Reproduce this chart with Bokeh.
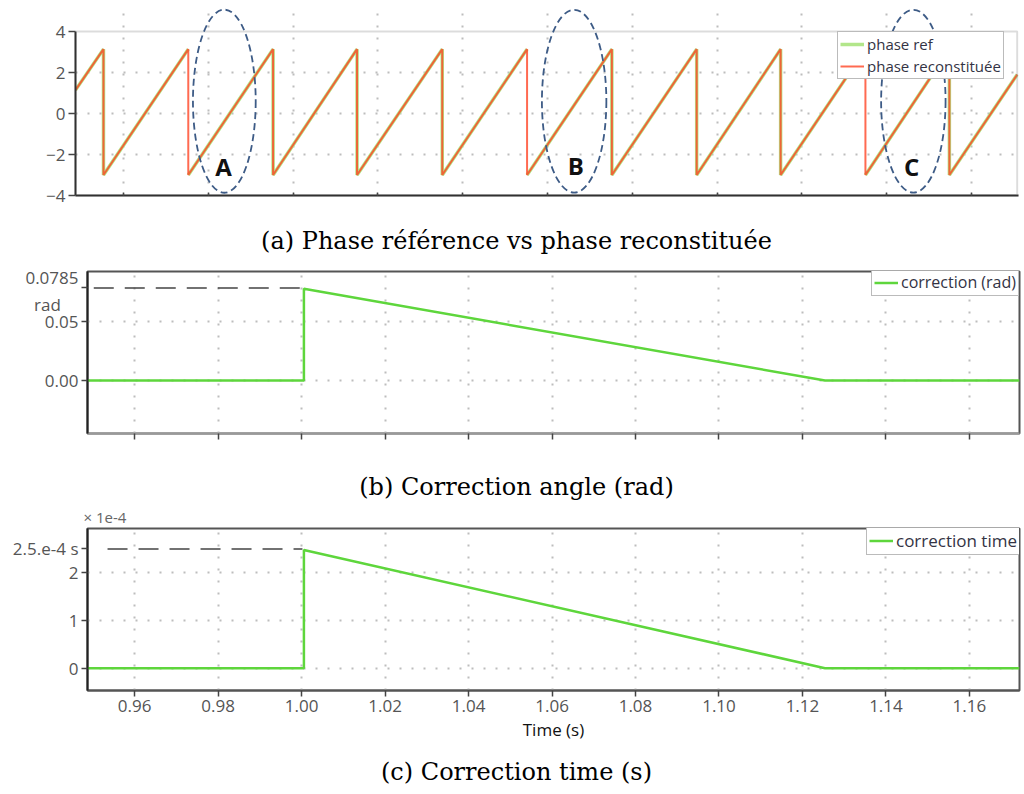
import numpy as np
from bokeh.plotting import figure
from bokeh.layouts import column
from bokeh.models import (BoxAnnotation, FixedTicker, NumeralTickFormatter, Range1d,
                          CustomJSTickFormatter)
from bokeh.core.properties import value
from bokeh.embed import file_html
from bokeh.resources import INLINE

nan = float("nan")

# ---------------- data ----------------
# (a) phase reference vs reconstructed phase (rad) -- sawtooth vertices
phase_ref_t = [0.9487, 0.9553, 0.9553, 0.9753, nan, 0.9753, 0.9953, 0.9953, 1.0151,
               1.0151, 1.0352, 1.0352, 1.0552, nan, 1.0552, 1.0752, 1.0752, 1.0952,
               1.0952, 1.1150, 1.1150, 1.1350, nan, 1.1350, 1.1548, 1.1548, 1.1708]
phase_ref_v = [1.14, 3.14, -3.00, 3.14, nan, -3.00, 3.14, -3.00, 3.14,
               -3.00, 3.14, -3.00, 3.14, nan, -3.00, 3.14, -3.00, 3.14,
               -3.00, 3.14, -3.00, 3.14, nan, -3.00, 3.14, -3.00, 1.90]
phase_rec_t = [0.9487, 0.9553, 0.9553, 0.9753, 0.9753, 0.9953, 0.9953, 1.0151,
               1.0151, 1.0352, 1.0352, 1.0552, 1.0552, 1.0752, 1.0752, 1.0952,
               1.0952, 1.1150, 1.1150, 1.1350, 1.1350, 1.1548, 1.1548, 1.1708]
phase_rec_v = [1.14, 3.14, -3.00, 3.14, -3.00, 3.14, -3.00, 3.14,
               -3.00, 3.14, -3.00, 3.14, -3.00, 3.14, -3.00, 3.14,
               -3.00, 3.14, -3.00, 3.14, -3.00, 3.14, -3.00, 1.90]
zone_labels = ["A", "B", "C"]
zone_t = [0.9838, 1.0663, 1.1463]
zone_v = [0.60, 0.60, 0.60]
zone_w = [0.0148, 0.0152, 0.0152]
zone_h = [8.93, 8.93, 8.93]
letter_t = [0.9836, 1.0667, 1.1459]
letter_v = [-2.60, -2.55, -2.60]

# (b) correction angle (rad)
corr_t = [0.9487, 1.00055, 1.00055, 1.1254, 1.1720]
corr_rad = [0.0, 0.0, 0.0778, 0.0, 0.0]
ref_rad_t = [0.9502, 1.0005]
ref_rad_v = [0.0785, 0.0785]

# (c) correction time (x 1e-4 s)
corr_time_e4 = [0.0, 0.0, 2.48, 0.0, 0.0]
ref_time_t = [0.9535, 1.0002]
ref_time_v = [2.5, 2.5]

x_ticks = [0.96, 0.98, 1.00, 1.02, 1.04, 1.06, 1.08, 1.10, 1.12, 1.14, 1.16]
ya_ticks = [-4, -2, 0, 2, 4]
ya_grid = [-2, 0, 2]
yb_ticks = [0.0, 0.05, 0.0785]
yb_grid = [0.0, 0.05]
yb_labels = {0.0785: "0.0785\nrad\u00a0\u00a0\u00a0\u00a0"}
yc_ticks = [0, 1, 2, 2.5]
yc_grid = [0, 1, 2]
yc_labels = {2.5: "2.5.e-4 s"}

captions = ["(a) Phase référence vs phase reconstituée",
            "(b) Correction angle (rad)",
            "(c) Correction time (s)"]
scale_note = "× 1e-4"

# ---------------- styling helpers ----------------
TICK_FONT = "Open Sans"
TICK_COLOR = "#555555"
GRID_COLOR = "#bdbdbd"
W = 1022


def no_frame_align(p):
    try:
        p.frame_align = False
    except Exception:
        pass


def style_axes(p):
    for ax in (p.xaxis[0], p.yaxis[0]):
        ax.major_label_text_font = TICK_FONT
        ax.major_label_text_font_size = "17px"
        ax.major_label_text_color = TICK_COLOR
        ax.minor_tick_line_color = None
        ax.major_tick_in = 0
        ax.major_tick_out = 6
        ax.major_tick_line_color = "#444444"
        ax.major_tick_line_width = 1.5
        ax.major_label_standoff = 3
    p.yaxis[0].axis_line_color = "#222222"
    p.yaxis[0].axis_line_width = 2
    p.xaxis[0].axis_line_color = "#555555"
    p.xaxis[0].axis_line_width = 2
    for g in (p.xgrid[0], p.ygrid[0]):
        g.grid_line_color = GRID_COLOR
        g.grid_line_dash = "2 10"
        g.grid_line_width = 2
    p.background_fill_color = "white"
    p.border_fill_color = "white"
    no_frame_align(p)


def hide_x_labels(p):
    p.xaxis.formatter = CustomJSTickFormatter(code="return ''")
    p.xaxis.major_label_text_font_size = "1px"
    p.xaxis.major_label_standoff = 0


def style_legend(p, size, loc, lh):
    lg = p.legend[0]
    lg.location = loc
    lg.label_text_font = "Open Sans"
    lg.label_text_font_size = size
    lg.label_text_color = "#333344"
    lg.border_line_color = "#777777"
    lg.border_line_width = 1.5
    lg.background_fill_alpha = 1
    lg.padding = 2
    lg.spacing = 2
    lg.margin = 0
    lg.glyph_width = 24
    lg.glyph_height = lh
    lg.label_height = lh
    lg.label_standoff = 3


def caption_fig(h, texts, xs, ys, sizes, fonts, colors, aligns):
    c = figure(width=W, height=h, x_range=Range1d(0, W), y_range=Range1d(0, h),
               output_backend="svg", toolbar_location=None, x_axis_type=None,
               y_axis_type=None, min_border=0, min_border_left=0, min_border_right=0,
               min_border_top=0, min_border_bottom=0)
    c.outline_line_color = None
    c.grid.visible = False
    c.background_fill_color = "white"
    c.border_fill_color = "white"
    no_frame_align(c)
    for t, x, y, s, f, col, al in zip(texts, xs, ys, sizes, fonts, colors, aligns):
        c.text(x=[x], y=[y], text=[t], text_font=value(f), text_font_size=s,
               text_color=col, text_align=al, text_baseline="middle")
    return c


# ---------------- (a) ----------------
XA0, XA1 = 0.9487, 1.1708
pa = figure(width=W, height=215, x_range=Range1d(XA0, 1.1711), y_range=Range1d(-4, 5.122),
            output_backend="svg", toolbar_location=None,
            min_border_left=75, min_border_right=4, min_border_top=8, min_border_bottom=20)
style_axes(pa)
pa.outline_line_color = None
pa.xaxis.ticker = FixedTicker(ticks=x_ticks)
hide_x_labels(pa)
pa.xaxis.major_tick_out = 0
pa.xaxis.major_tick_in = 3
pa.xaxis.axis_line_color = "#222222"
pa.yaxis.ticker = FixedTicker(ticks=ya_ticks)
pa.yaxis.bounds = (-4, 4)
pa.yaxis.major_tick_out = 7
pa.xgrid.ticker = FixedTicker(ticks=x_ticks)
pa.xgrid.bounds = (-4, 4)
pa.ygrid.ticker = FixedTicker(ticks=ya_grid)
pa.add_layout(BoxAnnotation(left=XA0, right=XA1, bottom=-4, top=4, fill_color=None,
                            line_color="#8a8a8a", line_width=2))

pa.line(np.array(phase_ref_t), np.array(phase_ref_v), color="#b2e68a", line_width=3.5,
        legend_label="phase ref")
pa.line(np.array(phase_rec_t), np.array(phase_rec_v), color="#ff4020", line_width=2,
        alpha=0.78, legend_label="phase reconstituée")
style_legend(pa, "15px", (762, 116), 20)

er = pa.ellipse(x=zone_t, y=zone_v, width=zone_w, height=zone_h, fill_color=None,
                line_color="#3d5b86", line_width=1.8, line_dash="7 4")
er.level = "overlay"
pa.text(x=letter_t, y=letter_v, text=zone_labels, text_font=value("Open Sans"),
        text_font_size="24px", text_font_style="bold", text_color="#111111",
        text_align="center", text_baseline="middle")

cap_a = caption_fig(50, [captions[0]], [516], [25], ["24px"], ["DejaVu Serif"],
                    ["black"], ["center"])

# ---------------- (b) ----------------
XB0, XB1 = 0.9487, 1.1720
pb = figure(width=W, height=198, x_range=Range1d(XB0, XB1), y_range=Range1d(-0.0449, 0.0924),
            output_backend="svg", toolbar_location=None,
            min_border_left=87, min_border_right=3, min_border_top=6, min_border_bottom=30)
style_axes(pb)
pb.outline_line_color = "#555555"
pb.outline_line_width = 2
pb.xaxis.ticker = FixedTicker(ticks=x_ticks)
hide_x_labels(pb)
pb.xaxis.axis_line_color = "#999999"
pb.yaxis.ticker = FixedTicker(ticks=yb_ticks)
pb.yaxis.formatter = NumeralTickFormatter(format="0.00")
pb.yaxis.major_label_overrides = yb_labels
pb.xgrid.ticker = FixedTicker(ticks=x_ticks)
pb.ygrid.ticker = FixedTicker(ticks=yb_grid)
pb.line(ref_rad_t, ref_rad_v, color="#444444", line_width=1.5, line_dash="20 11")
pb.line(corr_t, corr_rad, color="#5ed63c", line_width=2.5, legend_label="correction (rad)")
style_legend(pb, "16px", (784, 137), 19)

cap_b = caption_fig(64, [captions[1], scale_note], [516, 83], [41, 11], ["24px", "15px"],
                    ["DejaVu Serif", "Open Sans"], ["black", "#666666"], ["center", "left"])

# ---------------- (c) ----------------
pc = figure(width=W, height=223, x_range=Range1d(XB0, XB1), y_range=Range1d(-0.4675, 2.929),
            output_backend="svg", toolbar_location=None,
            min_border_left=87, min_border_right=3, min_border_top=1, min_border_bottom=60)
style_axes(pc)
pc.outline_line_color = "#555555"
pc.outline_line_width = 2
pc.xaxis.ticker = FixedTicker(ticks=x_ticks)
pc.xaxis.formatter = NumeralTickFormatter(format="0.00")
pc.xaxis.axis_label = "Time (s)"
pc.xaxis.axis_label_text_font = "Open Sans"
pc.xaxis.axis_label_text_font_size = "17px"
pc.xaxis.axis_label_text_font_style = "normal"
pc.xaxis.axis_label_text_color = "#111111"
pc.xaxis.axis_label_standoff = 3
pc.yaxis.ticker = FixedTicker(ticks=yc_ticks)
pc.yaxis.formatter = NumeralTickFormatter(format="0")
pc.yaxis.major_label_overrides = yc_labels
pc.xgrid.ticker = FixedTicker(ticks=x_ticks)
pc.ygrid.ticker = FixedTicker(ticks=yc_grid)
pc.line(ref_time_t, ref_time_v, color="#444444", line_width=1.5, line_dash="20 11")
pc.line(corr_t, corr_time_e4, color="#5ed63c", line_width=2.5, legend_label="correction time")
style_legend(pc, "17px", (779, 135), 21)

cap_c = caption_fig(42, [captions[2]], [516], [21], ["24px"], ["DejaVu Serif"],
                    ["black"], ["center"])

layout = column(pa, cap_a, pb, cap_b, pc, cap_c, spacing=0)
open("out.html", "w").write(file_html(layout, INLINE))
